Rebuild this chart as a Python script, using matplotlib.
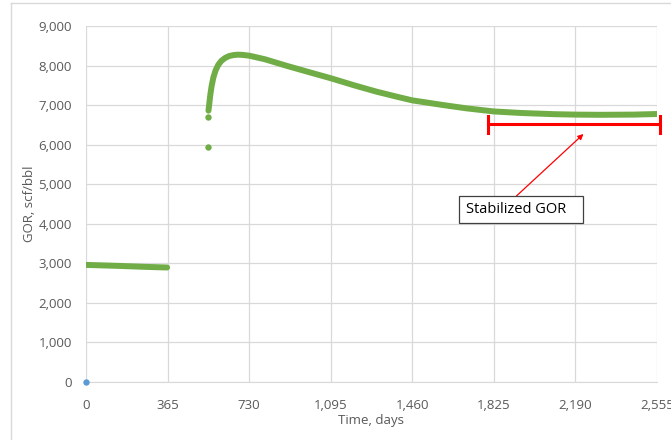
import matplotlib.pyplot as plt
from matplotlib.ticker import FuncFormatter
from matplotlib.lines import Line2D
from matplotlib.patches import Rectangle

plt.rcParams['font.family'] = ['Open Sans', 'DejaVu Sans']

# data
days_1 = [0, 30, 60, 90, 120, 150, 180, 210, 240, 270, 300, 330, 363]
gor_1 = [2960, 2955, 2950, 2945, 2940, 2935, 2928, 2922, 2916, 2910, 2905, 2900, 2895]

days_jump = [546, 547]
gor_jump = [5950, 6690]

days_2 = [548, 552, 556, 562, 570, 580, 592, 606, 622, 640, 660, 680, 700, 730,
          800, 900, 1000, 1095, 1200, 1300, 1400, 1460, 1600, 1700, 1825,
          1950, 2100, 2190, 2300, 2450, 2555]
gor_2 = [6860, 7050, 7250, 7480, 7700, 7880, 8020, 8120, 8190, 8240, 8265, 8275, 8270, 8250,
         8160, 7990, 7830, 7680, 7500, 7340, 7200, 7120, 7000, 6920, 6840,
         6800, 6770, 6760, 6755, 6760, 6775]

blue_day = [0]
blue_gor = [0]

x_ticks = [0, 365, 730, 1095, 1460, 1825, 2190, 2555]
y_ticks = [0, 1000, 2000, 3000, 4000, 5000, 6000, 7000, 8000, 9000]

# stabilized bracket
stab_start, stab_end, stab_level, cap = 1799, 2570, 6515, 210

green = '#70AD47'
blue = '#5B9BD5'
grid_c = '#D9D9D9'
txt_c = '#595959'

fig = plt.figure(figsize=(6.71, 4.40), dpi=100)
ax = fig.add_axes([86/671, 58/440, 571/671, 356/440])

ax.plot(days_1, gor_1, color=green, lw=4.3, solid_capstyle='round')
ax.plot(days_jump, gor_jump, 'o', color=green, ms=4.6, mew=0)
ax.plot(days_2, gor_2, color=green, lw=4.3, solid_capstyle='round')
ax.plot(blue_day, blue_gor, 'o', color=blue, ms=4.6, mew=0, clip_on=False, zorder=5)

# red bracket
ax.plot([stab_start, stab_end], [stab_level, stab_level], color='red', lw=2.2, clip_on=False)
ax.plot([stab_start, stab_start], [stab_level - cap, stab_level + cap], color='red', lw=2.2, clip_on=False)
ax.plot([stab_end, stab_end], [stab_level - cap, stab_level + cap], color='red', lw=2.2, clip_on=False)

# callout box + arrow
ax.add_patch(Rectangle((1669, 4019), 555, 683, fc='white', ec='#404040', lw=0.9, zorder=4))
ax.text(1700, 4355, 'Stabilized GOR', ha='left', va='center', fontsize=10.5, color='black', zorder=5)
ax.annotate('', xy=(2226, 6270), xytext=(1926, 4702),
            arrowprops=dict(arrowstyle='-|>', color='red', lw=0.9, mutation_scale=8,
                            shrinkA=0, shrinkB=0))

ax.set_xlim(0, 2555)
ax.set_ylim(0, 9000)
ax.set_xticks(x_ticks)
ax.set_yticks(y_ticks)
fmt = FuncFormatter(lambda v, p: f'{int(v):,}')
ax.xaxis.set_major_formatter(fmt)
ax.yaxis.set_major_formatter(fmt)
ax.tick_params(length=0, labelsize=9.5, colors=txt_c, pad=10)
ax.tick_params(axis='x', pad=12)

ax.grid(True, color=grid_c, lw=0.9)
ax.set_axisbelow(True)
for s in ['top', 'right', 'left']:
    ax.spines[s].set_visible(False)
ax.spines['bottom'].set_color(grid_c)

ax.set_xlabel('Time, days', fontsize=9.5, color=txt_c, labelpad=2)
ax.set_ylabel('GOR, scf/bbl', fontsize=9.5, color=txt_c, labelpad=2)

# chart border (cut off at right/bottom)
fig.add_artist(Line2D([10.5/671, 10.5/671], [0, 437/440], color=grid_c, lw=1))
fig.add_artist(Line2D([10.5/671, 1], [437/440, 437/440], color=grid_c, lw=1))

plt.savefig('out.png', dpi=100)
